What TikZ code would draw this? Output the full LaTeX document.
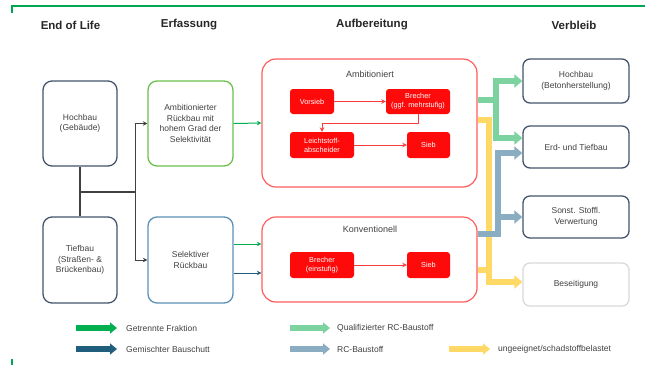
\documentclass[tikz,border=0pt]{standalone}
\usepackage{fontspec}
\setmainfont{Liberation Sans}
\usetikzlibrary{arrows.meta,calc}

\definecolor{slate}{HTML}{44546A}
\definecolor{txtgray}{HTML}{404040}
\definecolor{framegreen}{HTML}{00A651}
\definecolor{getrgreen}{HTML}{00B050}
\definecolor{gemblue}{HTML}{1F5E7C}
\definecolor{qualgreen}{HTML}{7DD3A0}
\definecolor{rcblue}{HTML}{8BADC1}
\definecolor{badyellow}{HTML}{FFD966}
\definecolor{ambgreen}{HTML}{6CC04A}
\definecolor{selblue}{HTML}{5A8FB3}
\definecolor{contred}{HTML}{FF5C5C}
\definecolor{procred}{HTML}{FF0A0A}
\definecolor{linkred}{HTML}{FF3B3B}
\definecolor{lightframe}{HTML}{D9D9D9}

\begin{document}
\begin{tikzpicture}[x=1pt,y=-1pt,
    box/.style={draw=slate, line width=1.3pt, rounded corners=9pt, align=center,
        text=txtgray, font=\fontsize{8.5}{10.5}\selectfont, inner sep=2pt},
    outbox/.style={box, rounded corners=7pt, minimum width=106pt},
    container/.style={draw=contred, line width=1.2pt, rounded corners=14pt},
    procbox/.style={fill=procred, rounded corners=3pt, align=center, text=white,
        font=\fontsize{7.3}{9.2}\selectfont, inner sep=1pt},
    header/.style={font=\fontsize{11.5}{13}\selectfont\bfseries, text=black!85},
    title/.style={font=\fontsize{9}{10.5}\selectfont, text=txtgray},
    legend/.style={anchor=west, inner sep=0pt, font=\fontsize{8.5}{10}\selectfont, text=txtgray},
    link/.style={draw=txtgray, line width=1.4pt},
    thinarrow/.style={line width=1pt, -{Stealth[length=4.5pt,width=4.5pt]}},
    redlink/.style={draw=linkred, line width=1pt, -{Stealth[length=4.5pt,width=4.5pt]}},
    fat/.style={line width=6pt, -{Triangle[width=13pt,length=8pt]}},
    fatplain/.style={line width=6pt},
    legarrow/.style={line width=6pt, -{Triangle[width=11pt,length=7pt]}}]

    \useasboundingbox (0,0) rectangle (649,365);

    % Frame
    \draw[framegreen, line width=1.2pt] (12,13) -- (12,6) -- (645,6);
    \draw[framegreen, line width=1.2pt] (12,359) -- (12,365);

    % Headers
    \node[header] (h-eol) at (70.5,25) {End of Life};
    \node[header] (h-erf) at (189,25) {Erfassung};
    \node[header] (h-auf) at (372,25) {Aufbereitung};
    \node[header] (h-ver) at (574,25) {Verbleib};

    % End of Life
    \node[box, minimum width=74pt, minimum height=85pt] (hoch) at (80,123.5) {Hochbau\\(Gebäude)};
    \node[box, minimum width=74pt, minimum height=86pt] (tief) at (80,260) {Tiefbau\\(Straßen- \&\\Brückenbau)};

    % Erfassung
    \node[box, draw=ambgreen, minimum width=85pt, minimum height=85pt] (ambr) at (190.5,123.5)
        {Ambitionierter\\Rückbau mit\\hohem Grad der\\Selektivität};
    \node[box, draw=selblue, minimum width=85pt, minimum height=86pt] (selr) at (190.5,260)
        {Selektiver\\Rückbau};

    \coordinate (split) at (80,192);
    \coordinate (fork) at (135,192);
    \draw[link] (hoch.south) -- (tief.north);
    \draw[link] (split) -- (fork);
    \draw[link, thinarrow] (fork) |- (ambr.west);
    \draw[link, thinarrow] (fork) |- (selr.west);

    % Aufbereitung
    \node[container, minimum width=215pt, minimum height=128pt] (amb) at (369.5,123) {};
    \node[title] (amb-t) at (370,74) {Ambitioniert};
    \node[procbox, minimum width=44pt, minimum height=25pt] (vorsieb) at (312,101.5) {Vorsieb};
    \node[procbox, minimum width=64pt, minimum height=25pt] (brecher) at (418,101.5) {Brecher\\(ggf. mehrstufig)};
    \node[procbox, minimum width=64pt, minimum height=26pt] (leicht) at (322,145) {Leichtstoff-\\abscheider};
    \node[procbox, minimum width=43pt, minimum height=26pt] (sieb) at (428.5,145) {Sieb};
    \draw[redlink] (vorsieb.east) -- (brecher.west);
    \draw[redlink] (brecher.south) -- ++(0,9) -| (leicht.north);
    \draw[redlink] (leicht.east) -- (sieb.west);

    \node[container, minimum width=215pt, minimum height=85pt] (konv) at (369.5,259.5) {};
    \node[title] (konv-t) at (370,229) {Konventionell};
    \node[procbox, minimum width=64pt, minimum height=26pt] (brecher2) at (322,265) {Brecher\\(einstufig)};
    \node[procbox, minimum width=43pt, minimum height=26pt] (sieb2) at (428.5,265) {Sieb};
    \draw[redlink] (brecher2.east) -- (sieb2.west);

    % Erfassung -> Aufbereitung
    \draw[getrgreen, thinarrow] (ambr.east) -- (amb.west);
    \coordinate (s1) at ($(selr.east)+(0,-16)$);
    \coordinate (s2) at ($(selr.east)+(0,13)$);
    \draw[getrgreen, thinarrow] (s1) -- (s1 -| konv.west);
    \draw[gemblue, thinarrow] (s2) -- (s2 -| konv.west);

    % Verbleib
    \node[outbox, minimum height=44pt] (hb) at (576,81) {Hochbau\\(Betonherstellung)};
    \node[outbox, minimum height=42pt] (et) at (576,147) {Erd- und Tiefbau};
    \node[outbox, minimum height=42pt] (sv) at (576,217) {Sonst. Stoffl.\\Verwertung};
    \node[outbox, draw=lightframe, minimum height=43pt] (bs) at (576,284.5) {Beseitigung};

    % Aufbereitung -> Verbleib
    \coordinate (ya) at ($(amb.east)+(0,-3)$);
    \coordinate (yk) at ($(konv.east)+(0,10.5)$);
    \draw[badyellow, fat] (ya) -- ++(11,0) |- ($(bs.west)+(0,-2.5)$);
    \draw[badyellow, fatplain] (yk) -- ++(14,0);

    \coordinate (ga) at ($(amb.east)+(0,-23)$);
    \coordinate (gsplit) at ($(ga)+(18,0)$);
    \draw[qualgreen, fatplain] (ga) -- ($(gsplit)+(3,0)$);
    \draw[qualgreen, fat] (gsplit) |- (hb.west);
    \draw[qualgreen, fat] (gsplit) |- ($(et.west)+(0,-9)$);

    \coordinate (ba) at ($(konv.east)+(0,-25.5)$);
    \coordinate (bsplit) at ($(ba)+(20,0)$);
    \draw[rcblue, fat] (ba) -- (bsplit) |- ($(et.west)+(0,6)$);
    \draw[rcblue, fat] (bsplit) |- (sv.west);

    % Legend
    \node[legend] (lg-getr) at (126,328) {Getrennte Fraktion};
    \node[legend] (lg-gem) at (126,349) {Gemischter Bauschutt};
    \node[legend] (lg-qual) at (337,328) {Qualifizierter RC-Baustoff};
    \node[legend] (lg-rc) at (337,349) {RC-Baustoff};
    \node[legend] (lg-bad) at (498,349) {ungeeignet/schadstoffbelastet};
    \draw[getrgreen, legarrow] ($(lg-getr.west)+(-50,0)$) -- ($(lg-getr.west)+(-9,0)$);
    \draw[gemblue, legarrow] ($(lg-gem.west)+(-50,0)$) -- ($(lg-gem.west)+(-9,0)$);
    \draw[qualgreen, legarrow] ($(lg-qual.west)+(-47,0)$) -- ($(lg-qual.west)+(-7,0)$);
    \draw[rcblue, legarrow] ($(lg-rc.west)+(-47,0)$) -- ($(lg-rc.west)+(-7,0)$);
    \draw[badyellow, legarrow] ($(lg-bad.west)+(-49,0)$) -- ($(lg-bad.west)+(-8,0)$);
\end{tikzpicture}
\end{document}
